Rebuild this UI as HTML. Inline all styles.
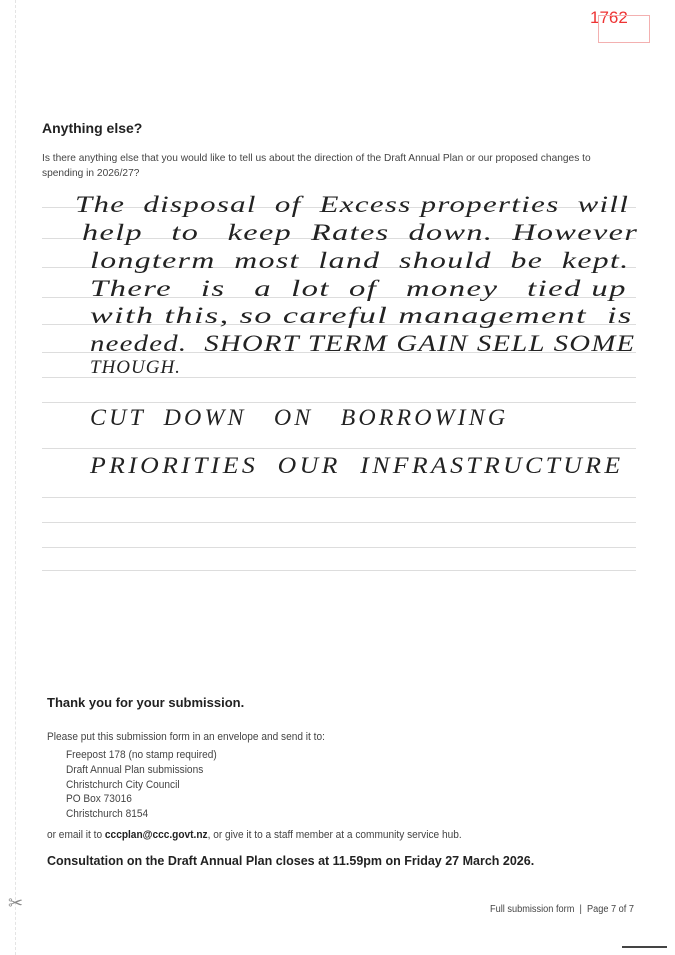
<!DOCTYPE html>
<html><head><meta charset="utf-8"><style>
body{margin:0;width:675px;height:955px;background:#fff;position:relative;overflow:hidden;font-family:"Liberation Sans",sans-serif;color:#333}
.a{position:absolute;white-space:nowrap}
.hw{font-family:"Liberation Serif",serif;font-style:italic;font-size:23px;color:#222;letter-spacing:1px;left:90px;transform-origin:0 50%}
.ln{position:absolute;left:42px;width:594px;height:1px;background:#ddd}
.t{font-size:11px;color:#444;transform-origin:0 50%;transform:scaleX(0.92)}
</style></head><body>
<div style="position:absolute;left:15px;top:0;width:0;height:955px;border-left:1px dashed #e4e4e4"></div>
<div class="a" style="left:590px;top:8px;color:#e33;font-size:17px">1762</div>
<div style="position:absolute;left:598px;top:15px;width:50px;height:26px;border:1px solid #f3b0b0"></div>
<div class="a" style="left:42px;top:120px;font-size:14px;font-weight:bold;color:#222">Anything else?</div>
<div class="a t" style="left:42px;top:152px;font-size:10.5px;transform:scaleX(0.97)">Is there anything else that you would like to tell us about the direction of the Draft Annual Plan or our proposed changes to</div>
<div class="a t" style="left:42px;top:167px;font-size:10.5px;transform:scaleX(0.97)">spending in 2026/27?</div>
<div class="ln" style="top:207px"></div><div class="ln" style="top:238px"></div><div class="ln" style="top:267px"></div><div class="ln" style="top:297px"></div><div class="ln" style="top:324px"></div><div class="ln" style="top:352px"></div><div class="ln" style="top:377px"></div><div class="ln" style="top:402px"></div><div class="ln" style="top:448px"></div><div class="ln" style="top:497px"></div><div class="ln" style="top:522px"></div><div class="ln" style="top:547px"></div><div class="ln" style="top:570px"></div>
<div class="a hw" style="top:192px;left:75px;transform:scaleX(1.34)">The &nbsp;disposal &nbsp;of &nbsp;Excess properties &nbsp;will</div>
<div class="a hw" style="top:220px;left:82px;transform:scaleX(1.4)">help &nbsp;&nbsp;to &nbsp;&nbsp;keep &nbsp;Rates &nbsp;down. &nbsp;However</div>
<div class="a hw" style="top:248px;transform:scaleX(1.38)">longterm &nbsp;most &nbsp;land &nbsp;should &nbsp;be &nbsp;kept.</div>
<div class="a hw" style="top:276px;transform:scaleX(1.42)">There &nbsp;&nbsp;is &nbsp;&nbsp;a &nbsp;lot &nbsp;of &nbsp;&nbsp;money &nbsp;&nbsp;tied up</div>
<div class="a hw" style="top:303px;transform:scaleX(1.48)">with this, so careful management &nbsp;is</div>
<div class="a hw" style="top:331px;transform:scaleX(1.25)">needed. &nbsp;SHORT TERM GAIN SELL SOME</div>
<div class="a hw" style="top:357px;font-size:19px">THOUGH.</div>
<div class="a hw" style="top:405px;letter-spacing:3px;transform:scaleX(1.04)">CUT &nbsp;DOWN &nbsp;&nbsp;ON &nbsp;&nbsp;BORROWING</div>
<div class="a hw" style="top:453px;letter-spacing:3px;transform:scaleX(1.12)">PRIORITIES &nbsp;OUR &nbsp;INFRASTRUCTURE</div>
<div class="a" style="left:47px;top:695px;font-size:13px;font-weight:bold;color:#222">Thank you for your submission.</div>
<div class="a t" style="left:47px;top:731px">Please put this submission form in an envelope and send it to:</div>
<div class="a t" style="left:66px;top:749px">Freepost 178 (no stamp required)</div>
<div class="a t" style="left:66px;top:764px">Draft Annual Plan submissions</div>
<div class="a t" style="left:66px;top:779px">Christchurch City Council</div>
<div class="a t" style="left:66px;top:793px">PO Box 73016</div>
<div class="a t" style="left:66px;top:808px">Christchurch 8154</div>
<div class="a t" style="left:47px;top:829px">or email it to <b style="color:#222">cccplan@ccc.govt.nz</b>, or give it to a staff member at a community service hub.</div>
<div class="a" style="left:47px;top:854px;font-size:12.5px;font-weight:bold;color:#222">Consultation on the Draft Annual Plan closes at 11.59pm on Friday 27 March 2026.</div>
<div class="a" style="left:8px;top:893px;font-size:18px;color:#888">✂</div>
<div class="a t" style="left:490px;top:904px;font-size:10px">Full submission form &nbsp;|&nbsp; Page 7 of 7</div>
<div style="position:absolute;left:622px;top:946px;width:45px;height:2px;background:#444"></div>
</body></html>
